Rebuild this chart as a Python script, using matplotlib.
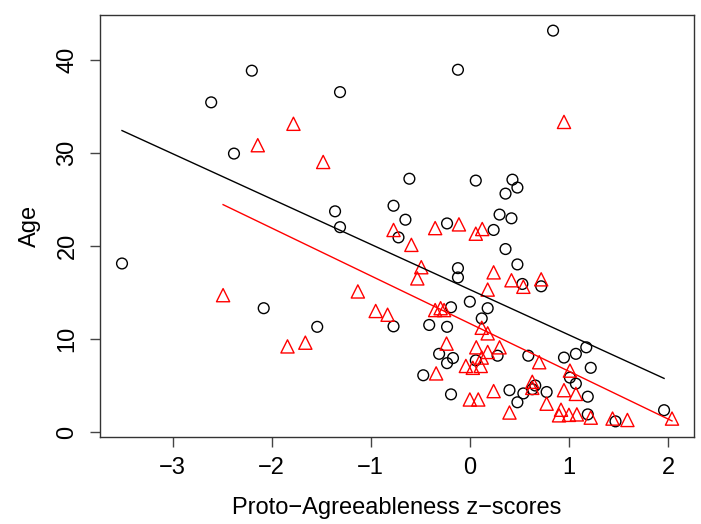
import numpy as np
import matplotlib
matplotlib.use('Agg')
import matplotlib.pyplot as plt

# group 1 (black circles)
circ_x = [-2.20, -2.61, -1.31, -2.38, -1.36, -1.31, -0.77, -3.51, -2.08, -1.54,
          -0.77, -0.72, 0.84, -0.12, -0.61, 0.06, 0.43, 0.48, 0.36, -0.65,
          0.30, 0.42, -0.23, 0.24, 0.36, 0.48, -0.12, -0.12, 0.53, 0.72,
          0.00, 0.18, -0.19, -0.41, -0.23, 0.12, -0.31, -0.17, -0.23, 0.06,
          0.28, -0.47, -0.19, 0.59, 0.95, 1.07, 1.175, 1.22, 1.01, 1.07,
          0.66, 0.63, 0.40, 0.54, 0.48, 0.775, 1.19, 1.19, 1.47, 1.96]
circ_y = [38.8, 35.4, 36.5, 29.9, 23.7, 22.0, 24.3, 18.1, 13.3, 11.3,
          11.35, 20.9, 43.1, 38.9, 27.2, 27.0, 27.1, 26.25, 25.6, 22.8,
          23.35, 22.95, 22.4, 21.7, 19.65, 18.0, 17.6, 16.6, 15.9, 15.65,
          14.0, 13.3, 13.4, 11.5, 11.3, 12.2, 8.4, 7.95, 7.4, 7.7,
          8.2, 6.1, 4.05, 8.2, 8.0, 8.4, 9.1, 6.9, 5.85, 5.2,
          5.0, 4.6, 4.5, 4.15, 3.2, 4.3, 3.8, 1.9, 1.15, 2.35]

# group 2 (red triangles)
tri_x = [-1.78, -2.14, -1.48, 0.95, -2.49, -1.13, -0.95, -0.83, -1.84, -1.66,
         -0.77, -0.11, -0.35, 0.125, 0.06, -0.59, -0.49, -0.53, 0.24, 0.42,
         0.72, 0.54, 0.18, -0.35, -0.295, -0.26, 0.12, 0.18, -0.235, 0.065,
         0.18, 0.30, 0.12, -0.04, 0.03, 0.11, -0.34, 0.70, 1.01, 0.63,
         0.63, 0.24, 0.00, 0.085, 0.40, 0.775, 0.95, 1.07, 0.92, 0.90,
         1.00, 1.08, 1.22, 1.44, 1.59, 2.04]
tri_y = [33.1, 30.8, 29.0, 33.3, 14.7, 15.1, 13.0, 12.6, 9.2, 9.6,
         21.7, 22.3, 21.9, 21.8, 21.3, 20.1, 17.7, 16.5, 17.15, 16.3,
         16.4, 15.6, 15.3, 13.1, 13.3, 13.1, 11.2, 10.6, 9.5, 9.1,
         8.6, 9.1, 8.0, 7.1, 6.9, 7.1, 6.3, 7.5, 6.6, 5.4,
         4.75, 4.4, 3.5, 3.5, 2.1, 3.05, 4.5, 4.1, 2.4, 1.8,
         1.85, 1.9, 1.55, 1.45, 1.3, 1.45]

x_ticks = [-3, -2, -1, 0, 1, 2]
y_ticks = [0, 10, 20, 30, 40]

plt.rcParams['font.family'] = ['Liberation Sans', 'DejaVu Sans']
plt.rcParams['axes.unicode_minus'] = True

fig = plt.figure(figsize=(7.01, 5.24), dpi=100)
ax = fig.add_axes([100 / 701, 1 - 437 / 524, 594 / 701, 422 / 524])

ax.scatter(circ_x, circ_y, s=60, facecolors='none', edgecolors='black', linewidths=1.0, marker='o')
ax.scatter(tri_x, tri_y, s=90, facecolors='none', edgecolors='red', linewidths=1.0, marker='^')

# least-squares lines per group, over each group's x range
for gx, gy, col in [(circ_x, circ_y, 'black'), (tri_x, tri_y, 'red')]:
    b, a = np.polyfit(gx, gy, 1)
    xs = np.array([min(gx), max(gx)])
    ax.plot(xs, a + b * xs, color=col, lw=1.0)

allx = circ_x + tri_x
ally = circ_y + tri_y
rx = max(allx) - min(allx)
ry = max(ally) - min(ally)
ax.set_xlim(min(allx) - 0.04 * rx, max(allx) + 0.04 * rx)
ax.set_ylim(min(ally) - 0.04 * ry, max(ally) + 0.04 * ry)

ax.set_xticks(x_ticks)
ax.set_yticks(y_ticks)
ax.tick_params(direction='out', length=7.5, width=1.0, color='#444444', labelsize=17)
ax.tick_params(axis='x', pad=7)
ax.tick_params(axis='y', pad=8)
for lab in ax.get_yticklabels():
    lab.set_rotation(90)
    lab.set_va('center')
for sp in ax.spines.values():
    sp.set_color('#333333')
    sp.set_linewidth(1.0)

ax.set_xlabel('Proto\u2212Agreeableness z\u2212scores', fontsize=17, labelpad=13)
ax.set_ylabel('Age', fontsize=17, labelpad=11)

fig.savefig('out.png', dpi=100)
